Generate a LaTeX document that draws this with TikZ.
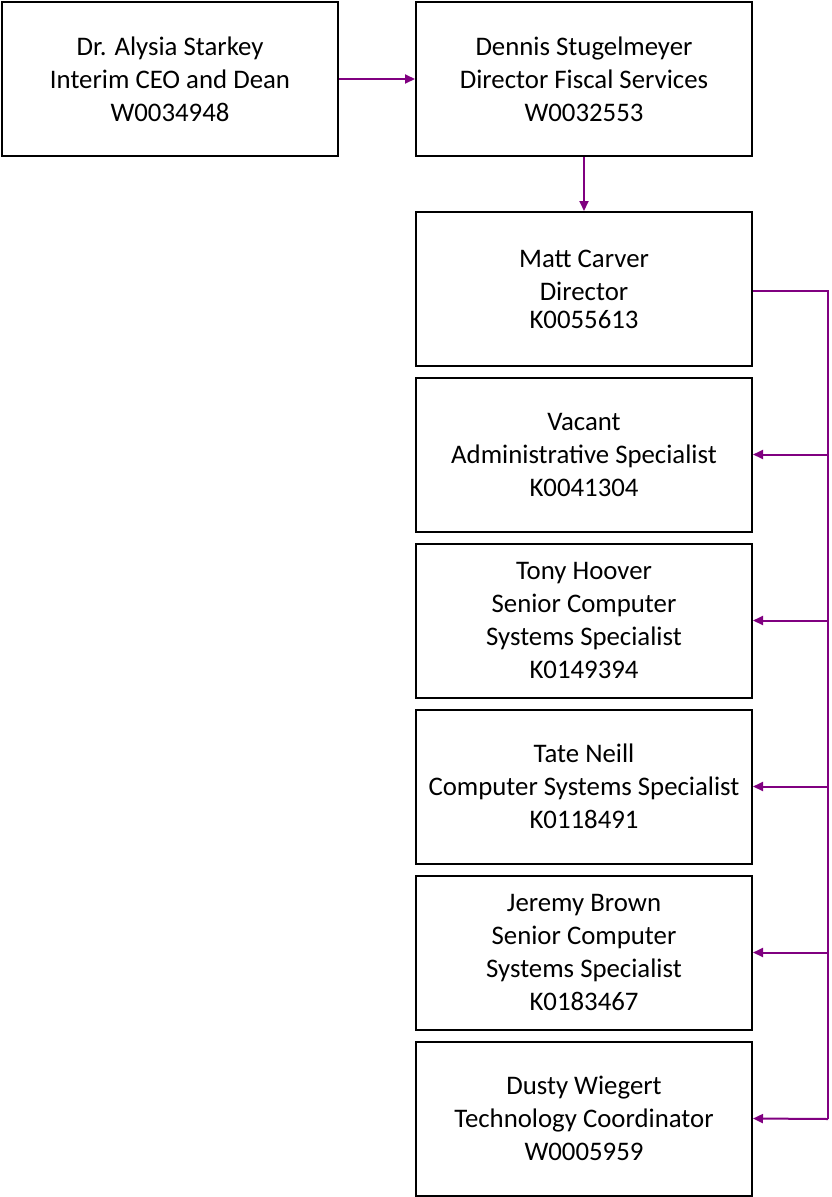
\documentclass[tikz,border=0pt]{standalone}
\usepackage{fontspec}
\setmainfont{Carlito}
\usetikzlibrary{arrows.meta}
\definecolor{linkpurple}{RGB}{128,0,128}
\begin{document}
\begin{tikzpicture}[
  x=1pt, y=-1pt,
  every node/.style={font=\fontsize{26.8}{33}\selectfont, align=center},
  box/.style={draw, line width=2pt, minimum width=336pt, minimum height=154pt, inner sep=0pt},
  line/.style={draw=linkpurple, line width=2pt},
  arrow/.style={line, -{Triangle[length=10pt,width=9pt]}}
]
\useasboundingbox (0,0) rectangle (831,1197);

% Top row
\node[box] (ceo) at (170, 79) {Dr. Alysia Starkey\\Interim CEO and Dean\\W0034948};
\node[box] (fiscal) at (584, 79) {Dennis Stugelmeyer\\Director Fiscal Services\\W0032553};

% Director
\node[box] (carver) at (584, 289) {Matt Carver\\Director\\[-5pt]K0055613};

% Staff under the director
\node[box] (vacant) at (584, 454.5) {Vacant\\Administrative Specialist\\K0041304};
\node[box] (hoover) at (584, 620.5) {Tony Hoover\\Senior Computer\\Systems Specialist\\K0149394};
\node[box] (neill) at (584, 786.5) {Tate Neill\\Computer Systems Specialist\\K0118491};
\node[box] (brown) at (584, 952.5) {Jeremy Brown\\Senior Computer\\Systems Specialist\\K0183467};
\node[box] (wiegert) at (584, 1118.5) {Dusty Wiegert\\Technology Coordinator\\W0005959};

% Links
\draw[arrow] (ceo) -- (fiscal);
\draw[arrow] (fiscal) -- (carver);

% Bus on the right
\coordinate (bustop) at (828, 291);
\coordinate (busbot) at (828, 1119);
\draw[line] (carver.east |- bustop) -- (bustop) -- (busbot);
\draw[arrow] (bustop |- vacant) -- (vacant.east);
\draw[arrow] (bustop |- hoover) -- (hoover.east);
\draw[arrow] (bustop |- neill) -- (neill.east);
\draw[arrow] (bustop |- brown) -- (brown.east);
\draw[arrow] (busbot) -- (wiegert.east);

\end{tikzpicture}
\end{document}
